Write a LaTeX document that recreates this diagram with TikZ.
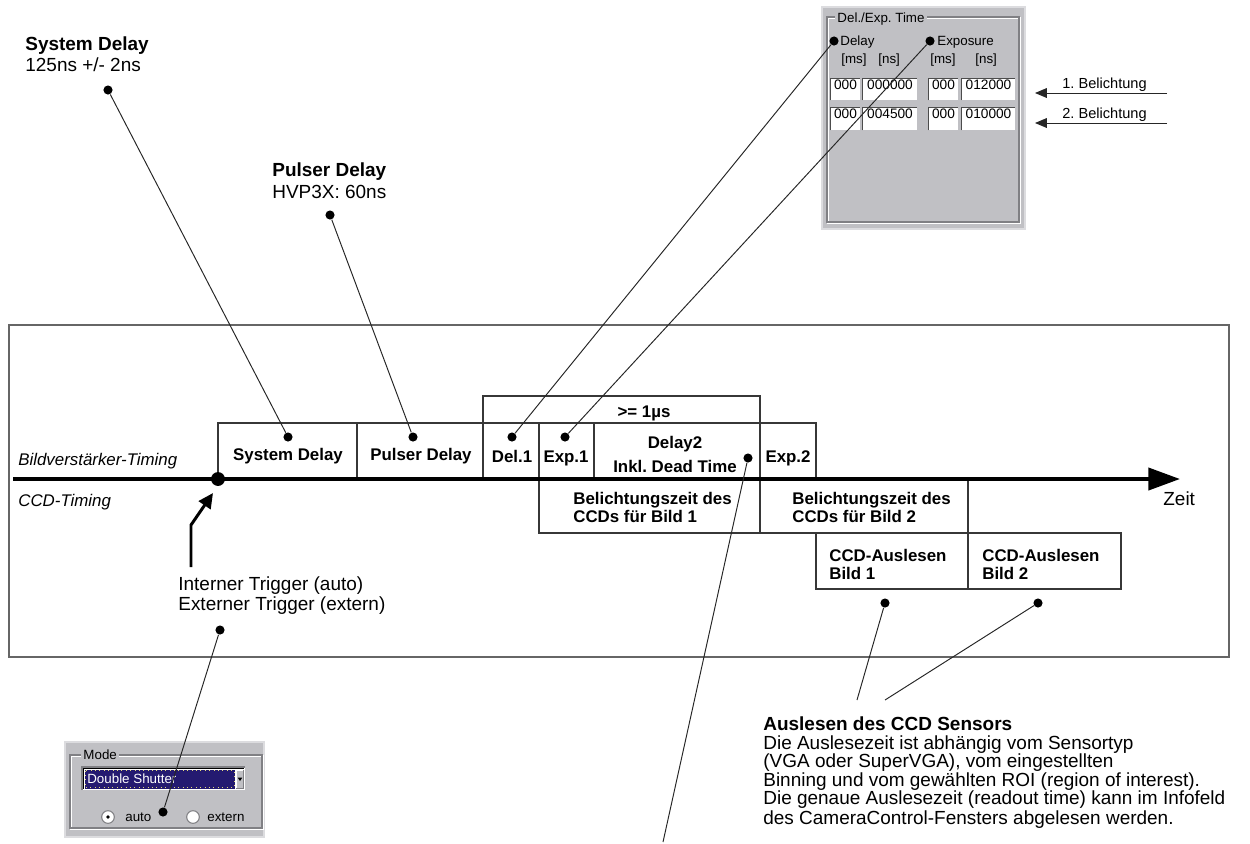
\documentclass[tikz,border=0pt]{standalone}
\usepackage{fontspec}
\setmainfont{Liberation Sans}
\usetikzlibrary{fit,arrows.meta}
\frenchspacing

\definecolor{winface}{RGB}{192,192,196}
\definecolor{winshadow}{RGB}{128,128,132}
\definecolor{selblue}{RGB}{36,26,112}
\definecolor{focusyellow}{RGB}{225,215,120}
\definecolor{edge}{RGB}{55,55,55}

\tikzset{
  px/.style={x=0.02cm,y=-0.02cm},
  frameline/.style={draw=black!60, line width=0.6pt, inner sep=0pt},
  tbox/.style={draw=edge, line width=0.6pt, inner sep=0pt},
  boxlbl/.style={font=\bfseries\fontsize{9.6}{11}\selectfont, inner sep=0pt, anchor=base},
  boxlblw/.style={font=\bfseries\fontsize{9.6}{11}\selectfont, inner sep=0pt, anchor=base west},
  dot/.style={circle, fill=black, inner sep=0pt, minimum size=5.2pt},
  leader/.style={draw=black!85, line width=0.55pt},
  note/.style={font=\fontsize{10.8}{12}\selectfont, inner sep=0pt, anchor=base west},
  notebold/.style={font=\bfseries\fontsize{10.8}{12}\selectfont, inner sep=0pt, anchor=base west},
  axislbl/.style={font=\itshape\fontsize{9.6}{11}\selectfont, inner sep=0pt, anchor=base west},
  ui/.style={font=\fontsize{7.6}{9}\selectfont, inner sep=0pt, anchor=base west},
  field/.style={fill=white, inner sep=0pt, font=\fontsize{7.8}{9}\selectfont},
  fieldedge/.style={draw=black!70, line width=0.7pt},
  radio/.style={circle, fill=white, draw=winshadow, line width=0.6pt, minimum size=7.2pt, inner sep=0pt},
}

\begin{document}
\begin{tikzpicture}[px]
\useasboundingbox (0,0) rectangle (1250,843);

% ---------- timing frame ----------
\node[frameline, fit={(9,325) (1229,657)}] (frame) {};

% boxes above the time axis (image intensifier)
\node[tbox, fit={(218,423) (357,479)}] (sdbox) {};
\node[tbox, fit={(357,423) (483,479)}] (pdbox) {};
\node[tbox, fit={(483,396) (760,423)}] (minbox) {};
\node[tbox, fit={(483,423) (539,479)}] (del1box) {};
\node[tbox, fit={(539,423) (594,479)}] (exp1box) {};
\node[tbox, fit={(594,423) (760,479)}] (dl2box) {};
\node[tbox, fit={(760,423) (816,479)}] (exp2box) {};

% boxes below the time axis (CCD)
\node[tbox, fit={(539,479) (760,533)}] (bz1box) {};
\node[tbox, fit={(760,479) (968,533)}] (bz2box) {};
\node[tbox, fit={(816,533) (968,589)}] (rd1box) {};
\node[tbox, fit={(968,533) (1121,589)}] (rd2box) {};

% box labels
\node[boxlbl] (sdtxt) at (288,460) {System Delay};
\node[boxlbl] (pdtxt) at (421,460) {Pulser Delay};
\node[boxlbl] (mintxt) at (644,417) {>= 1µs};
\node[boxlbl] (del1txt) at (512,462) {Del.1};
\node[boxlbl] (exp1txt) at (566,462) {Exp.1};
\node[boxlbl] (dl2txta) at (675,448) {Delay2};
\node[boxlbl] (dl2txtb) at (675,472) {Inkl. Dead Time};
\node[boxlbl] (exp2txt) at (788,462) {Exp.2};
\node[boxlblw] (bz1a) at (573,504) {Belichtungszeit des};
\node[boxlblw] (bz1b) at (573,522) {CCDs für Bild 1};
\node[boxlblw] (bz2a) at (792,504) {Belichtungszeit des};
\node[boxlblw] (bz2b) at (792,522) {CCDs für Bild 2};
\node[boxlblw] (rd1a) at (829,561) {CCD-Auslesen};
\node[boxlblw] (rd1b) at (829,579) {Bild 1};
\node[boxlblw] (rd2a) at (982,561) {CCD-Auslesen};
\node[boxlblw] (rd2b) at (982,579) {Bild 2};

% time axis
\coordinate (t0) at (13,479);
\coordinate (tend) at (1180,479);
\draw[line width=2.3pt, -{Triangle[length=18pt,width=12.5pt]}] (t0) -- (tend);
\node[note] (zeit) at (1163,505) {Zeit};
\node[axislbl] (bvlbl) at (18,465) {Bildverstärker-Timing};
\node[axislbl] (ccdlbl) at (18,506) {CCD-Timing};

% trigger point and arrow
\node[dot, minimum size=7.9pt] (trig) at (218,479) {};
\coordinate (trigfoot) at (191,567);
\coordinate (trigknee) at (191,525);
\coordinate (trigtip) at (213,493);
\draw[line width=1.7pt, -{Triangle[length=8.5pt,width=8pt]}] (trigfoot) -- (trigknee) -- (trigtip);
\node[note] (trigA) at (178,590) {Interner Trigger (auto)};
\node[note] (trigB) at (178,610) {Externer Trigger (extern)};

% ---------- annotations ----------
\node[notebold] (sdh) at (25,50) {System Delay};
\node[note] (sdv) at (25,71) {125ns +/- 2ns};
\node[notebold] (pdh) at (272,176) {Pulser Delay};
\node[note] (pdv) at (272,198) {HVP3X: 60ns};

\node[dot] (sdtop) at (108,90) {};
\node[dot] (sdin) at (288,437) {};
\draw[leader] (sdtop) -- (sdin);
\node[dot] (pdtop) at (330,215) {};
\node[dot] (pdin) at (413,437) {};
\draw[leader] (pdtop) -- (pdin);

\node[dot] (del1dot) at (512,437) {};
\node[dot] (exp1dot) at (565,437) {};

\node[dot] (dl2dot) at (748,458) {};
\coordinate (dl2end) at (663,842);
\draw[leader] (dl2dot) -- (dl2end);

\node[dot] (rd1dot) at (885,603) {};
\node[dot] (rd2dot) at (1038,603) {};
\coordinate (rd1end) at (857,700);
\coordinate (rd2end) at (885,700);
\draw[leader] (rd1dot) -- (rd1end);
\draw[leader] (rd2dot) -- (rd2end);

\node[notebold] (roh) at (763,730) {Auslesen des CCD Sensors};
\node[note] (ro1) at (763,749) {Die Auslesezeit ist abhängig vom Sensortyp};
\node[note] (ro2) at (763,767.5) {(VGA oder SuperVGA), vom eingestellten};
\node[note] (ro3) at (763,786) {Binning und vom gewählten ROI (region of interest).};
\node[note] (ro4) at (763,804.5) {Die genaue Auslesezeit (readout time) kann im Infofeld};
\node[note] (ro5) at (763,824) {des CameraControl-Fensters abgelesen werden.};

% ---------- Mode panel ----------
\fill[winface] (65,742) rectangle (264,837);
\draw[winface!55!white, line width=0.8pt] (65,742) rectangle (264,837);
\draw[white, line width=0.6pt] (71,756) rectangle (263,829);
\draw[winshadow, line width=0.6pt] (70,755) rectangle (262,828);
\node[ui, fill=winface, inner xsep=1.2pt] (modelbl) at (81,759) {Mode};
\fill[white] (82,767) rectangle (245,790);
\draw[winshadow, line width=0.6pt] (82,790) -- (82,767) -- (245,767);
\draw[black, line width=0.6pt] (83.5,789) -- (83.5,768.5) -- (244,768.5);
\fill[selblue] (84.5,769.5) rectangle (235,788.5);
\draw[focusyellow, dotted, line width=0.5pt] (85.5,770.5) rectangle (234,787.5);
\node[ui, text=white] (modesel) at (87,783) {Double Shutter};
\fill[winface] (235.5,769.5) rectangle (244,788.5);
\draw[white, line width=0.5pt] (236,788) -- (236,770) -- (243.5,770);
\draw[winshadow, line width=0.5pt] (236,788) -- (243.5,788) -- (243.5,770);
\fill[black] (237.6,777.5) -- (242.4,777.5) -- (240,781) -- cycle;
\node[radio] (rauto) at (108,817) {};
\node[circle, fill=black, minimum size=2.2pt, inner sep=0pt] (rautodot) at (108,817) {};
\node[ui] (autolbl) at (125,821) {auto};
\node[radio] (rext) at (193,817) {};
\node[ui] (extlbl) at (207,821) {extern};

\node[dot] (trigdot) at (220,630) {};
\node[dot] (modedot) at (163,812) {};
\draw[leader] (trigdot) -- (modedot);

% ---------- Del./Exp. Time panel ----------
\fill[winface] (822,7) rectangle (1025,229);
\draw[winface!55!white, line width=0.8pt] (822,7) rectangle (1025,229);
\draw[white, line width=0.6pt] (828,18) rectangle (1020,223);
\draw[winshadow, line width=0.6pt] (827,17) rectangle (1019,222);
\node[ui, fill=winface, inner xsep=1.2pt] (dxlbl) at (835,22) {Del./Exp. Time};
\node[ui] (dellbl) at (840,45) {Delay};
\node[ui] (explbl) at (937,45) {Exposure};
\node[ui] (u1) at (841,63) {[ms]};
\node[ui] (u2) at (878,63) {[ns]};
\node[ui] (u3) at (930,63) {[ms]};
\node[ui] (u4) at (975,63) {[ns]};
\foreach \nm/\xa/\xb/\ya/\yb/\val in {
  fa/831/860/79/100/000, fb/863/917/79/100/000000,
  fc/929/958/79/100/000, fd/962/1015/79/100/012000,
  fe/831/860/108/130/000, ff/863/917/108/130/004500,
  fg/929/958/108/130/000, fh/962/1015/108/130/010000}{
  \node[field, fit={(\xa,\ya) (\xb,\yb)}] (\nm) {\val};
  \draw[fieldedge] (\nm.south west) -- (\nm.north west) -- (\nm.north east);
}
\node[dot] (deldot) at (834,41) {};
\node[dot] (expdot) at (930,41) {};
\draw[leader] (deldot) -- (del1dot);
\draw[leader] (expdot) -- (exp1dot);

% exposure markers
\coordinate (b1s) at (1167,93);
\coordinate (b1e) at (1035,93);
\coordinate (b2s) at (1167,123);
\coordinate (b2e) at (1035,123);
\draw[leader, -{Triangle[length=6.8pt,width=5.6pt]}] (b1s) -- (b1e);
\draw[leader, -{Triangle[length=6.8pt,width=5.6pt]}] (b2s) -- (b2e);
\node[ui, font=\fontsize{8.3}{10}\selectfont] (b1lbl) at (1062,88) {1. Belichtung};
\node[ui, font=\fontsize{8.3}{10}\selectfont] (b2lbl) at (1062,118) {2. Belichtung};
\end{tikzpicture}
\end{document}
